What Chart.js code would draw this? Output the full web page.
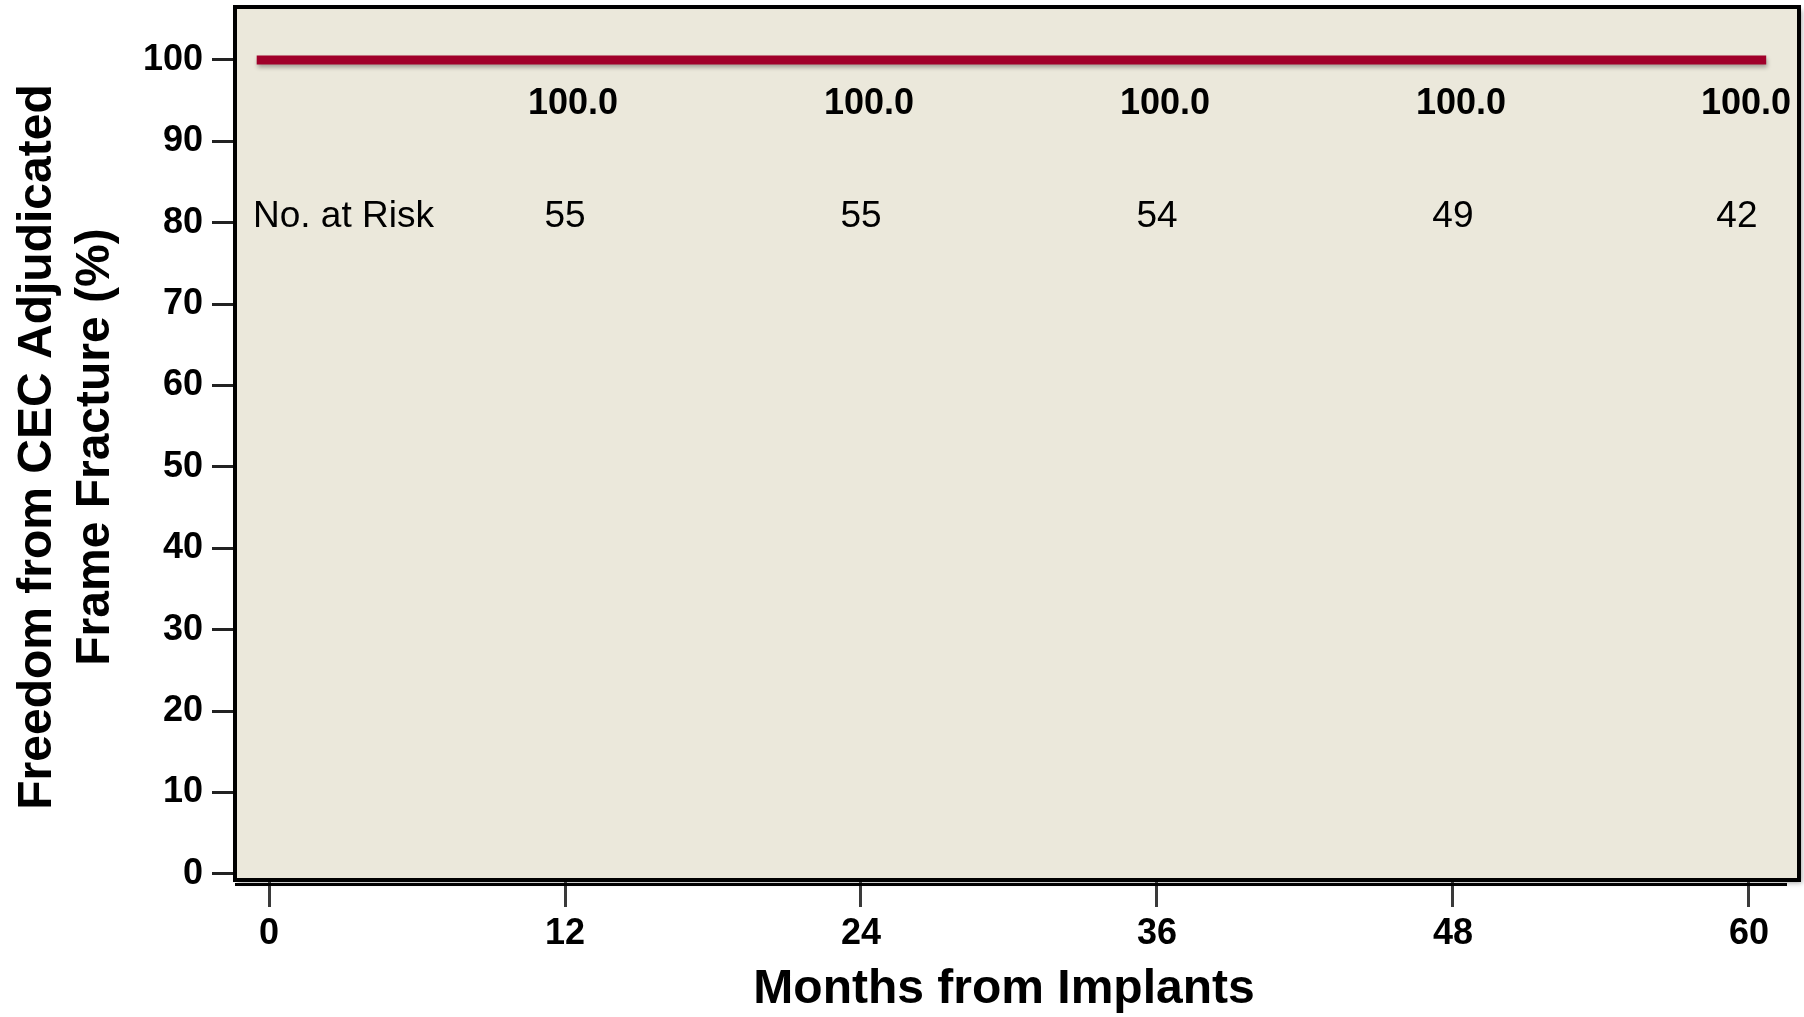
<!DOCTYPE html>
<html><head><meta charset="utf-8">
<script src="https://cdn.jsdelivr.net/npm/chart.js@4.4.1/dist/chart.umd.min.js"></script>
<style>html,body{margin:0;padding:0;background:#fff;}canvas{display:block;}</style>
</head><body>
<canvas id="c" width="1804" height="1017"></canvas>
<script>
// ---- data ----
const curveMonths = [-0.5, 60.7];
const curveSurvival = [100, 100];
const xTickMonths = [0, 12, 24, 36, 48, 60];
const yTickValues = [0, 10, 20, 30, 40, 50, 60, 70, 80, 90, 100];
const landmarkMonths = [12, 24, 36, 48, 60];
const landmarkSurvival = [100.0, 100.0, 100.0, 100.0, 100.0];
const numberAtRisk = [55, 55, 54, 49, 42];
const riskRowLabel = 'No. at Risk';
const xTitle = 'Months from Implants';
const yTitleLines = ['Freedom from CEC Adjudicated', 'Frame Fracture (%)'];

const FONT = "'Liberation Sans', Arial, Helvetica, sans-serif";

const decor = {
  id: 'decor',
  beforeDraw(chart) {
    const {ctx, chartArea: a} = chart;
    ctx.save();
    ctx.shadowColor = 'rgba(0,0,0,0.35)';
    ctx.shadowBlur = 5;
    ctx.shadowOffsetX = 3;
    ctx.shadowOffsetY = 3;
    ctx.fillStyle = '#EBE8DB';
    ctx.fillRect(a.left, a.top, a.right - a.left, a.bottom - a.top);
    ctx.restore();
  },
  beforeDatasetsDraw(chart) {
    const ctx = chart.ctx;
    ctx.save();
    ctx.shadowColor = 'rgba(0,0,0,0.3)';
    ctx.shadowBlur = 4;
    ctx.shadowOffsetX = 1;
    ctx.shadowOffsetY = 3;
  },
  afterDatasetsDraw(chart) {
    chart.ctx.restore();
  },
  afterDraw(chart) {
    const {ctx, chartArea: a, scales: {x, y}} = chart;
    ctx.save();
    ctx.strokeStyle = '#000';
    ctx.lineWidth = 4;
    ctx.strokeRect(a.left, a.top, a.right - a.left, a.bottom - a.top);
    ctx.lineWidth = 3;
    ctx.beginPath();
    ctx.moveTo(a.left, a.bottom + 4.5);
    ctx.lineTo(a.right - 12, a.bottom + 4.5);
    ctx.stroke();

    ctx.fillStyle = '#000';
    ctx.textBaseline = 'middle';
    ctx.font = 'bold 36px ' + FONT;
    ctx.textAlign = 'center';
    const ySurv = y.getPixelForValue(94.6);
    landmarkMonths.forEach((m, i) => {
      const txt = landmarkSurvival[i].toFixed(1);
      const w = ctx.measureText(txt).width;
      let cx = x.getPixelForValue(m) + 8;
      if (cx + w / 2 > a.right - 8) cx = a.right - 8 - w / 2;
      ctx.fillText(txt, cx, ySurv);
    });
    ctx.font = '37px ' + FONT;
    const yRisk = y.getPixelForValue(80.7);
    landmarkMonths.forEach((m, i) => {
      let cx = x.getPixelForValue(m);
      if (i === landmarkMonths.length - 1) cx -= 12;
      ctx.fillText(String(numberAtRisk[i]), cx, yRisk);
    });
    ctx.textAlign = 'left';
    ctx.fillText(riskRowLabel, a.left + 18, yRisk);

    ctx.font = 'bold 48px ' + FONT;
    ctx.textAlign = 'center';
    ctx.fillText(xTitle, 1004, 990);
    const yTitleX = [38, 96];
    yTitleLines.forEach((line, i) => {
      ctx.save();
      ctx.translate(yTitleX[i], 447);
      ctx.rotate(-Math.PI / 2);
      ctx.fillText(line, 0, 0);
      ctx.restore();
    });
    ctx.restore();
  }
};

function noPad(s) { s.paddingTop = 0; s.paddingBottom = 0; s.paddingLeft = 0; s.paddingRight = 0; }

new Chart(document.getElementById('c'), {
  type: 'line',
  data: {
    datasets: [{
      data: curveMonths.map((m, i) => ({x: m, y: curveSurvival[i]})),
      borderColor: '#A0002A',
      borderWidth: 9,
      borderCapStyle: 'butt',
      pointRadius: 0,
      stepped: true,
      fill: false
    }]
  },
  options: {
    responsive: false,
    animation: false,
    devicePixelRatio: 1,
    layout: {padding: {top: 7, right: 5, left: 0, bottom: 0}},
    plugins: {legend: {display: false}, tooltip: {enabled: false}},
    scales: {
      x: {
        type: 'linear',
        min: -1.38,
        max: 62.03,
        afterBuildTicks: s => { s.ticks = xTickMonths.map(v => ({value: v})); },
        afterFit: s => { s.height = 137; noPad(s); },
        border: {display: false},
        grid: {drawOnChartArea: false, drawTicks: true, tickLength: 27, color: '#3a3a3a', lineWidth: 3},
        ticks: {padding: 5, color: '#000', font: {family: FONT, size: 36, weight: 'bold'}, maxRotation: 0}
      },
      y: {
        type: 'linear',
        min: -0.74,
        max: 106.5,
        afterBuildTicks: s => { s.ticks = yTickValues.map(v => ({value: v})); },
        afterFit: s => { s.width = 235; noPad(s); },
        border: {display: false},
        grid: {drawOnChartArea: false, drawTicks: true, tickLength: 23, color: '#222', lineWidth: 3},
        ticks: {padding: 9, color: '#000', font: {family: FONT, size: 36, weight: 'bold'}}
      }
    }
  },
  plugins: [decor]
});
</script>
</body></html>
